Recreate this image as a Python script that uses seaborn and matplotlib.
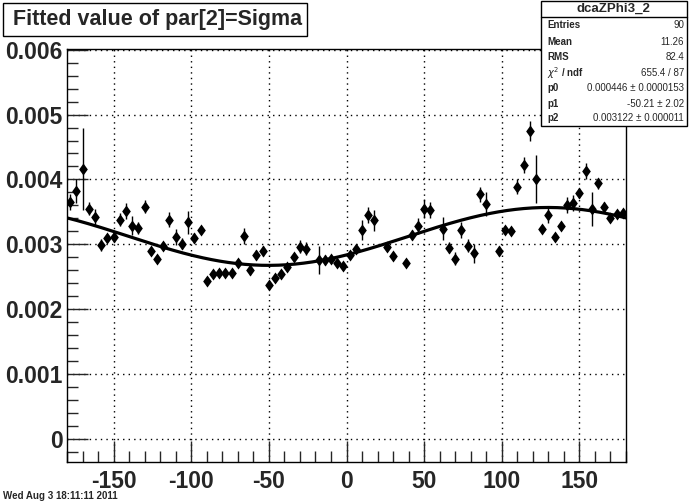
import numpy as np
import pandas as pd
import matplotlib
matplotlib.use("Agg")
import matplotlib.pyplot as plt
from matplotlib.patches import Rectangle
from matplotlib.ticker import MultipleLocator
import seaborn as sns

# Data (sigma in units of 1e-3)
phi = [-178, -174, -170, -166, -162, -158, -154, -150, -146, -142,
       -138, -134, -130, -126, -122, -118, -114, -110, -106, -102,
       -98, -94, -90, -86, -82, -78, -74, -70, -66, -62,
       -58, -54, -50, -46, -42, -38, -34, -30, -26, -18,
       -14, -10, -6, -2, 2, 6, 10, 14, 18, 26,
       30, 38, 42, 46, 50, 54, 62, 66, 70, 74,
       78, 82, 86, 90, 98, 102, 106, 110, 114, 118,
       122, 126, 130, 134, 138, 142, 146, 150, 154, 158,
       162, 166, 170, 174, 178]
sigma = [3.65, 3.82, 4.16, 3.55, 3.42, 2.99, 3.10, 3.12, 3.38, 3.51,
         3.29, 3.25, 3.58, 2.89, 2.78, 2.97, 3.38, 3.11, 3.01, 3.34,
         3.10, 3.22, 2.43, 2.55, 2.56, 2.56, 2.56, 2.71, 3.13, 2.60,
         2.84, 2.90, 2.38, 2.48, 2.55, 2.65, 2.80, 2.96, 2.93, 2.76,
         2.76, 2.78, 2.71, 2.67, 2.83, 2.93, 3.22, 3.45, 3.37, 2.96,
         2.82, 2.72, 3.14, 3.28, 3.55, 3.53, 3.24, 2.95, 2.78, 3.22,
         2.98, 2.86, 3.77, 3.62, 2.90, 3.22, 3.20, 3.89, 4.22, 4.75,
         4.00, 3.24, 3.45, 3.11, 3.28, 3.61, 3.64, 3.79, 4.13, 3.55,
         3.94, 3.58, 3.40, 3.47, 3.49]
sigma_err = [0.12, 0.18, 0.63, 0.10, 0.12, 0.09, 0.06, 0.08, 0.10, 0.12,
             0.15, 0.09, 0.10, 0.06, 0.05, 0.06, 0.12, 0.12, 0.08, 0.18,
             0.08, 0.06, 0.06, 0.06, 0.06, 0.06, 0.06, 0.06, 0.12, 0.08,
             0.08, 0.08, 0.06, 0.06, 0.06, 0.06, 0.06, 0.10, 0.10, 0.22,
             0.08, 0.06, 0.06, 0.06, 0.06, 0.06, 0.15, 0.12, 0.16, 0.06,
             0.06, 0.06, 0.08, 0.12, 0.15, 0.12, 0.18, 0.08, 0.10, 0.12,
             0.10, 0.15, 0.12, 0.18, 0.08, 0.06, 0.06, 0.12, 0.12, 0.15,
             0.37, 0.06, 0.12, 0.06, 0.06, 0.12, 0.12, 0.08, 0.12, 0.26,
             0.08, 0.08, 0.06, 0.06, 0.06]

# fit parameters from the stats box: p2 - p0*cos(phi - p1)
p0, p1, p2 = 0.000446, -50.21, 0.003122

stats_labels = ["Entries", "Mean", "RMS", r"$\chi^2$ / ndf", "p0", "p1", "p2"]
stats_values = ["90", "11.26", "82.4", "655.4 / 87",
                "0.000446 \u00b1 0.0000153", "-50.21 \u00b1 2.02", "0.003122 \u00b1 0.000011"]

df = pd.DataFrame({"phi": phi, "sigma": np.array(sigma) * 1e-3,
                   "err": np.array(sigma_err) * 1e-3})
fx = np.linspace(-180, 180, 400)
fit = pd.DataFrame({"phi": fx, "sigma": p2 - p0 * np.cos(np.radians(fx - p1))})

sns.set_style("white")
plt.rcParams["font.family"] = ["Liberation Sans", "DejaVu Sans"]
plt.rcParams["axes.unicode_minus"] = False

# ROOT style full diamond (a bit taller than wide)
diamond = [(0, 1), (0.72, 0), (0, -1), (-0.72, 0), (0, 1)]

W, H = 690, 503
fig = plt.figure(figsize=(W / 100, H / 100), dpi=100)
ax = fig.add_axes([67 / W, 1 - 462 / H, (626 - 67) / W, (462 - 49) / H])

ax.errorbar(df["phi"], df["sigma"], yerr=df["err"], fmt="none",
            ecolor="black", elinewidth=1, capsize=0, zorder=2)
sns.scatterplot(data=df, x="phi", y="sigma", marker=diamond, s=75, color="black",
                edgecolor="black", linewidth=0, ax=ax, zorder=3)
sns.lineplot(data=fit, x="phi", y="sigma", color="black", linewidth=2.3,
             ax=ax, zorder=4)

ax.set_xlim(-180, 180)
ax.set_ylim(-0.000354, 0.00601)
ax.set_xlabel("")
ax.set_ylabel("")
ax.xaxis.set_minor_locator(MultipleLocator(10))
ax.yaxis.set_minor_locator(MultipleLocator(0.0002))
ax.set_xticks([-150, -100, -50, 0, 50, 100, 150])
ax.set_xticklabels(["-150", "-100", "-50", "0", "50", "100", "150"])
ax.set_yticks([0, 0.001, 0.002, 0.003, 0.004, 0.005, 0.006])
ax.set_yticklabels(["0", "0.001", "0.002", "0.003", "0.004", "0.005", "0.006"])
ax.tick_params(axis="both", which="major", direction="in", length=15, width=1,
               labelsize=16.5, top=False, right=False, left=True, bottom=True)
ax.tick_params(axis="both", which="minor", direction="in", length=8, width=1,
               top=False, right=False, left=True, bottom=True)
ax.tick_params(axis="x", which="major", pad=6)
ax.tick_params(axis="y", which="major", pad=3)
for lab in ax.get_xticklabels() + ax.get_yticklabels():
    lab.set_fontweight("bold")
ax.grid(True, which="major", color="black", linestyle=(0, (1, 3)), linewidth=1)
for sp in ax.spines.values():
    sp.set_color("black")
    sp.set_linewidth(1)

# title box
fig.patches.append(Rectangle((3 / W, 1 - 36 / H), 304 / W, 33 / H, transform=fig.transFigure,
                             fill=True, facecolor="white", edgecolor="black", linewidth=1))
fig.text(13 / W, 1 - 20 / H, "Fitted value of par[2]=Sigma", fontsize=15.5,
         fontweight="bold", ha="left", va="center")

# stats box
fig.patches.append(Rectangle((541 / W, 1 - 126 / H), 146 / W, 125 / H, transform=fig.transFigure,
                             fill=True, facecolor="white", edgecolor="black", linewidth=1, zorder=5))
fig.lines.append(plt.Line2D([541 / W, 687 / W], [1 - 17 / H, 1 - 17 / H],
                            transform=fig.transFigure, color="black", linewidth=1, zorder=6))
fig.text(613 / W, 1 - 9 / H, "dcaZPhi3_2", fontsize=9.5, fontweight="bold",
         ha="center", va="center", zorder=7)
row_y = [25, 42, 57, 73, 88, 104, 118]
for lbl, val, yy in zip(stats_labels, stats_values, row_y):
    fig.text(547 / W, 1 - yy / H, lbl, fontsize=7, fontweight="bold",
             ha="left", va="center", zorder=7)
    fig.text(684 / W, 1 - yy / H, val, fontsize=7, ha="right", va="center", zorder=7)

fig.text(3 / W, 1 - 501 / H, "Wed Aug 3 18:11:11 2011", fontsize=7, fontweight="bold",
         ha="left", va="bottom")

fig.savefig("out.png", dpi=100)
